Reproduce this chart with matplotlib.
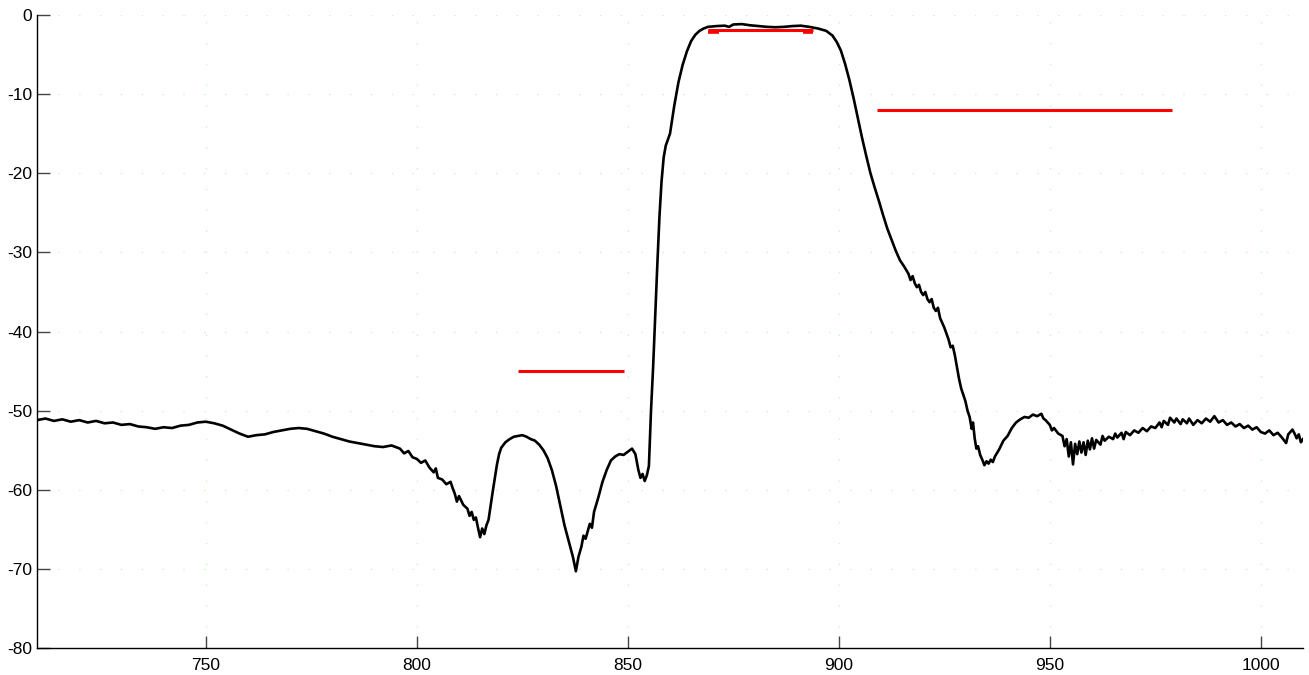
import numpy as np
import matplotlib
matplotlib.use('Agg')
import matplotlib.pyplot as plt

plt.rcParams['font.family'] = ['Liberation Sans', 'DejaVu Sans']
plt.rcParams['axes.unicode_minus'] = False

# frecuencia (MHz) y respuesta (dB)
freq = [710, 712, 714, 716, 718, 720, 722, 724, 726, 728, 730, 732, 734, 736, 738, 740,
        742, 744, 746, 748, 750, 752, 754, 756, 758, 760, 762, 764, 766, 768, 770, 772,
        774, 776, 778, 780, 782, 784, 786, 788, 790, 792, 794, 796, 797, 798, 799, 800,
        801, 802, 803, 804, 804.5, 805, 806, 807, 808, 808.5, 809, 809.5, 810, 811, 812,
        812.5, 813, 813.5, 814, 814.5, 815, 815.5, 816, 816.5, 817, 817.5, 818, 818.5,
        819, 819.5, 820, 821, 822, 823, 824, 825, 826, 827, 828, 829, 830, 831, 832, 833,
        834, 835, 836, 837, 837.7, 838.3, 839, 839.5, 840, 841, 841.5, 842, 843, 844, 845,
        846, 847, 848, 849, 850, 851, 851.8, 852.5, 853, 853.5, 854, 854.5, 855, 855.5,
        856, 856.5, 857, 857.5, 858, 858.5, 859, 860, 861, 862, 863, 864, 865, 866, 867,
        868, 869, 871, 873, 874, 875, 877, 879, 881, 883, 885, 887, 889, 891, 893, 895,
        897, 898.5, 899.5, 900.5, 901.5, 902.5, 903.5, 904.5, 905.5, 906.5, 907.5, 908.5,
        909.5, 910.5, 911.5, 912.5, 913.5, 914.5, 915.5, 916.5, 917, 917.5, 918, 918.5,
        919, 919.5, 920, 920.5, 921, 921.5, 922, 922.5, 923, 923.5, 924, 925, 926, 926.5,
        927, 927.5, 928, 928.5, 929, 929.5, 930, 930.5, 931, 931.5, 931.8, 932.2, 932.6,
        933, 933.5, 934, 934.5, 935, 935.5, 936, 936.5, 937, 938, 939, 940, 941, 942, 943,
        944, 945, 946, 947, 948, 948.5, 949, 950, 950.5, 951, 952, 953, 953.5, 954, 954.5,
        955, 955.5, 956, 956.5, 957, 957.5, 958, 958.5, 959, 959.5, 960, 960.5, 961, 962,
        962.5, 963, 964, 965, 965.5, 966, 967, 967.5, 968, 969, 970, 971, 972, 973, 974,
        975, 976, 976.5, 977, 978, 978.5, 979.5, 980, 981, 981.5, 982.5, 983, 984, 985,
        986, 987, 988, 989, 990, 991, 992, 993, 994, 995, 996, 997, 998, 999, 1000, 1001,
        1002, 1003, 1004, 1005, 1006, 1006.5, 1007.5, 1008, 1008.5, 1009, 1009.5, 1010]
resp = [-51.2, -51.0, -51.3, -51.1, -51.4, -51.2, -51.5, -51.3, -51.6, -51.5, -51.8, -51.7,
        -52.0, -52.1, -52.3, -52.1, -52.2, -51.9, -51.8, -51.5, -51.4, -51.6, -51.9, -52.4,
        -52.9, -53.3, -53.1, -53.0, -52.7, -52.5, -52.3, -52.2, -52.3, -52.6, -52.9, -53.3,
        -53.6, -53.9, -54.1, -54.3, -54.5, -54.6, -54.4, -54.8, -55.4, -55.1, -55.9, -56.1,
        -56.6, -56.3, -57.2, -57.8, -57.3, -58.5, -58.7, -59.3, -59.0, -59.8, -60.5, -61.5,
        -60.8, -61.9, -62.4, -63.3, -62.8, -63.8, -63.5, -64.8, -66.0, -64.9, -65.6, -64.5,
        -63.8, -62.0, -60.2, -58.5, -56.8, -55.5, -54.7, -54.0, -53.6, -53.3, -53.2, -53.1,
        -53.3, -53.6, -53.8, -54.3, -55.0, -56.0, -57.5, -59.5, -62.0, -64.5, -66.5, -68.5,
        -70.3, -68.5, -67.2, -65.8, -66.2, -64.3, -64.8, -62.8, -61.0, -59.0, -57.5, -56.3,
        -55.8, -55.5, -55.6, -55.2, -54.8, -55.5, -57.5, -58.5, -58.0, -58.9, -58.2, -57.0,
        -50.0, -44.5, -38.0, -31.5, -25.5, -21.0, -18.0, -16.5, -15.0, -11.5, -8.5, -6.3,
        -4.6, -3.3, -2.5, -2.0, -1.7, -1.5, -1.4, -1.35, -1.5, -1.2, -1.15, -1.3, -1.4,
        -1.5, -1.55, -1.5, -1.4, -1.35, -1.5, -1.7, -2.0, -2.6, -3.4, -4.5, -6.2, -8.2,
        -10.5, -13.0, -15.5, -17.8, -20.0, -21.8, -23.5, -25.3, -27.0, -28.4, -29.8, -31.0,
        -31.8, -32.7, -33.5, -33.0, -33.9, -34.4, -34.1, -35.0, -35.4, -35.0, -35.9, -36.3,
        -35.9, -37.0, -37.4, -37.0, -38.3, -39.5, -41.0, -42.0, -41.8, -43.0, -44.5, -46.0,
        -47.2, -48.0, -48.8, -50.0, -50.8, -52.3, -51.5, -53.5, -54.8, -54.5, -55.6, -56.2,
        -56.9, -56.4, -56.7, -56.2, -56.5, -55.8, -54.9, -53.8, -53.2, -52.2, -51.5, -51.1,
        -50.8, -50.9, -50.5, -50.7, -50.4, -51.0, -51.2, -51.8, -52.5, -52.2, -52.9, -53.2,
        -54.5, -53.6, -55.8, -54.0, -56.8, -54.2, -55.5, -53.9, -55.3, -54.0, -55.6, -53.8,
        -54.9, -53.5, -54.8, -53.7, -54.3, -53.2, -53.8, -53.3, -53.6, -52.9, -53.4, -52.8,
        -53.6, -52.7, -53.1, -52.5, -52.8, -52.2, -52.6, -52.0, -52.2, -51.5, -52.1, -51.3,
        -51.8, -50.9, -51.5, -51.0, -51.7, -51.1, -51.6, -51.0, -51.8, -51.2, -51.6, -51.0,
        -51.4, -50.7, -51.5, -51.2, -51.8, -51.5, -52.0, -51.7, -52.2, -51.9, -52.4, -52.1,
        -52.7, -52.9, -52.5, -53.1, -52.8, -53.4, -54.1, -53.0, -52.4, -52.9, -53.5, -53.0,
        -54.0, -53.6]

# mascara de especificacion (inicio, fin, nivel dB)
mask_x0 = [824, 909, 869]
mask_x1 = [849, 979, 894]
mask_y = [-45, -12, -1.9]
# pequeños tramos en los extremos de la banda de paso
end_x0 = [869, 891.5]
end_x1 = [871.5, 894]
end_y = [-2.2, -2.2]

fig = plt.figure(figsize=(13.09, 6.75), dpi=100)
ax = fig.add_axes([37/1309, 27/675, 1266/1309, 633/675])

ax.plot(freq, resp, color='black', linewidth=1.9)
ax.hlines(mask_y, mask_x0, mask_x1, colors='red', linewidth=2.2)
ax.hlines(end_y, end_x0, end_x1, colors='red', linewidth=2.6)

ax.set_xlim(710, 1010)
ax.set_ylim(-80, 0)
ax.set_xticks([750, 800, 850, 900, 950, 1000])
ax.set_yticks(np.arange(-80, 1, 10))

ax.spines['top'].set_visible(False)
ax.spines['right'].set_visible(False)
ax.spines['left'].set_linewidth(1.0)
ax.spines['bottom'].set_linewidth(1.0)
ax.tick_params(axis='both', direction='in', length=9, width=1.0, color='#444444')
ax.tick_params(axis='y', labelsize=12.5, pad=3.5)
ax.tick_params(axis='x', labelsize=12.5, pad=7)

ax.grid(True, color='#c6f7c6', linestyle=(0, (1, 14)), linewidth=1.0)
ax.set_axisbelow(True)

fig.savefig('out.png', dpi=100)
